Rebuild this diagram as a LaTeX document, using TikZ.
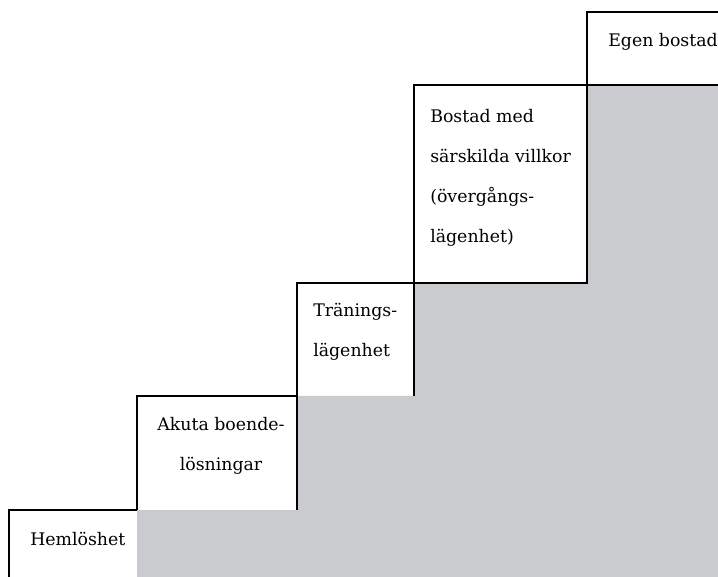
\documentclass[tikz,border=0pt]{standalone}
\usepackage{fontspec}
\setmainfont{DejaVu Serif}
\usetikzlibrary{positioning}
\definecolor{stairgrey}{RGB}{201,203,207}
\begin{document}
\begin{tikzpicture}[x=0.75pt,y=-0.75pt]
        % Define styles
        \tikzset{
            stepline/.style={line width=1pt, black},
            steptext/.style={font=\fontsize{13}{30}\selectfont, inner sep=0pt}
        }
        \useasboundingbox (0,0) rectangle (718,577);
        % Grey body of the staircase
        \fill[stairgrey] (137,580) -- (137,510) -- (297,510) -- (297,396) -- (414,396)
            -- (414,283) -- (587,283) -- (587,85) -- (725,85) -- (725,580) -- cycle;
        % Steps, bottom to top
        \draw[stepline] (9,580) |- (137,510);
        \draw[stepline] (137,510) |- (297,396) -- (297,510);
        \draw[stepline] (297,396) |- (414,283) -- (414,396);
        \draw[stepline] (414,85) rectangle (587,283);
        \draw[stepline] (587,12) rectangle (725,85);
        % Labels on the steps
        \node[steptext, anchor=base west] (hemloshet) at (30,545) {Hemlöshet};
        \node[steptext, anchor=north, align=center] (akuta) at (221,417) {Akuta boende-\\lösningar};
        \node[steptext, anchor=north west, align=left] (traning) at (313,303) {Tränings-\\lägenhet};
        \node[steptext, anchor=north west, align=left] (villkor) at (430,109) {Bostad med\\särskilda villkor\\(övergångs-\\lägenhet)};
        \node[steptext, anchor=base west] (egen) at (608,47) {Egen bostad};
\end{tikzpicture}
\end{document}
